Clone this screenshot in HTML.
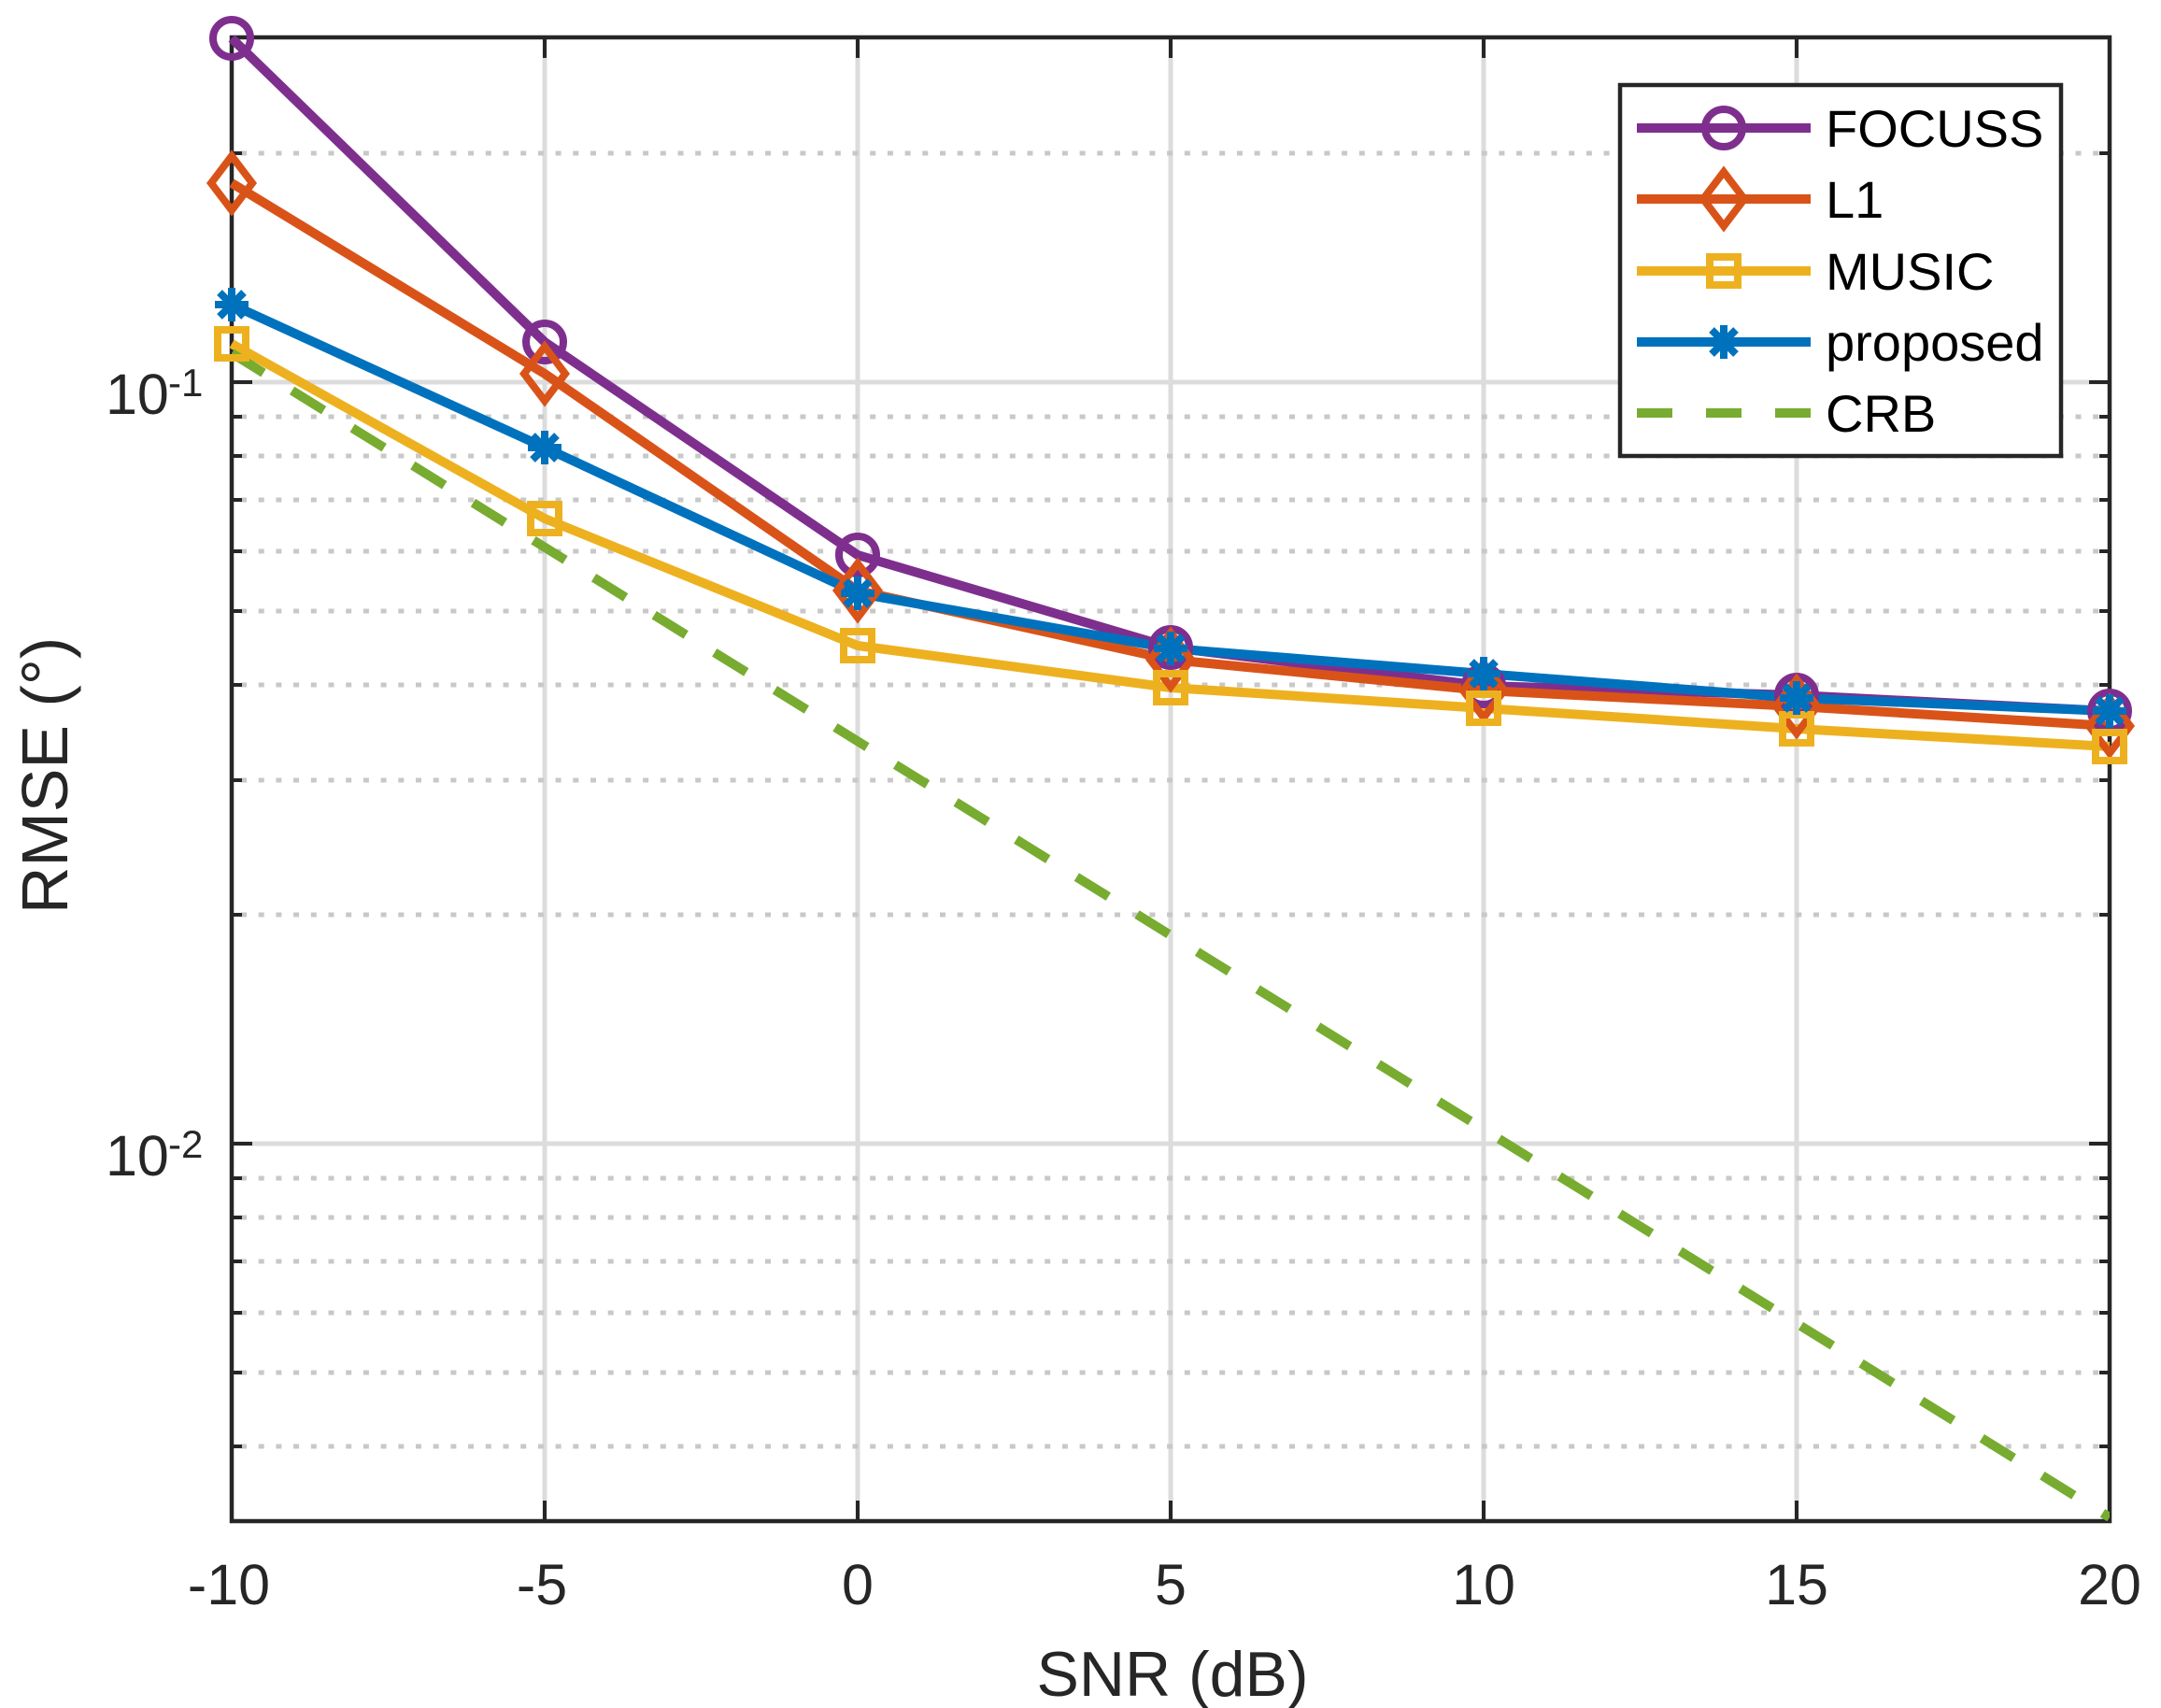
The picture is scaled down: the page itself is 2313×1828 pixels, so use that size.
<!DOCTYPE html>
<html><head><meta charset="utf-8"><style>
html,body{margin:0;padding:0;background:#fff;}
svg{display:block;font-family:"Liberation Sans",sans-serif;}
</style></head><body>
<svg width="2313" height="1828" viewBox="0 0 2313 1828" xmlns="http://www.w3.org/2000/svg">
<defs><clipPath id="c"><rect x="248" y="40" width="2010" height="1588"/></clipPath></defs>
<rect x="248" y="40" width="2010" height="1588" fill="#fff"/>
<g stroke="#dcdcdc" stroke-width="5">
<line x1="583" y1="40" x2="583" y2="1628"/><line x1="918" y1="40" x2="918" y2="1628"/>
<line x1="1253" y1="40" x2="1253" y2="1628"/><line x1="1588" y1="40" x2="1588" y2="1628"/>
<line x1="1923" y1="40" x2="1923" y2="1628"/>
<line x1="248" y1="409" x2="2258" y2="409"/><line x1="248" y1="1224" x2="2258" y2="1224"/>
</g>
<g stroke="#c8c8c8" stroke-width="5" stroke-dasharray="6 12.7">
<line x1="258" y1="164" x2="2258" y2="164"/>
<line x1="258" y1="446" x2="2258" y2="446"/><line x1="258" y1="488" x2="2258" y2="488"/>
<line x1="258" y1="535" x2="2258" y2="535"/><line x1="258" y1="590" x2="2258" y2="590"/>
<line x1="258" y1="654" x2="2258" y2="654"/><line x1="258" y1="733" x2="2258" y2="733"/>
<line x1="258" y1="835" x2="2258" y2="835"/><line x1="258" y1="979" x2="2258" y2="979"/>
<line x1="258" y1="1261" x2="2258" y2="1261"/><line x1="258" y1="1303" x2="2258" y2="1303"/>
<line x1="258" y1="1350" x2="2258" y2="1350"/><line x1="258" y1="1405" x2="2258" y2="1405"/>
<line x1="258" y1="1469" x2="2258" y2="1469"/><line x1="258" y1="1548" x2="2258" y2="1548"/>
</g>
<g stroke="#262626" stroke-width="4">
<path d="M583 40v22M918 40v22M1253 40v22M1588 40v22M1923 40v22M583 1628v-22M918 1628v-22M1253 1628v-22M1588 1628v-22M1923 1628v-22"/>
<path d="M248 409h22M248 1224h22M2258 409h-22M2258 1224h-22"/>
<path d="M248 164h11M248 446h11M248 488h11M248 535h11M248 590h11M248 654h11M248 733h11M248 835h11M248 979h11M248 1261h11M248 1303h11M248 1350h11M248 1405h11M248 1469h11M248 1548h11"/>
<path d="M2258 164h-11M2258 446h-11M2258 488h-11M2258 535h-11M2258 590h-11M2258 654h-11M2258 733h-11M2258 835h-11M2258 979h-11M2258 1261h-11M2258 1303h-11M2258 1350h-11M2258 1405h-11M2258 1469h-11M2258 1548h-11"/>
</g>
<rect x="248" y="40" width="2010" height="1588" fill="none" stroke="#262626" stroke-width="4.5"/>
<g fill="none" stroke-width="10" stroke-linejoin="round">
<polyline stroke="#7E2F8E" points="248,41 583,366 918,594 1253,693 1588,734 1923,744 2258,761"/>
<polyline stroke="#D95319" points="248,196 583,400 918,632 1253,706 1588,739 1923,756 2258,777"/>
<polyline stroke="#EDB120" points="248,368 583,555 918,691 1253,736 1588,758 1923,780 2258,799"/>
<polyline stroke="#0072BD" points="248,326 583,479 918,635 1253,694 1588,721 1923,747 2258,761"/>
<line clip-path="url(#c)" stroke="#77AC30" stroke-dasharray="40 36" x1="248" y1="378" x2="2258" y2="1624"/>
</g>
<g fill="none" stroke="#7E2F8E" stroke-width="8">
<circle cx="248" cy="41" r="20"/><circle cx="583" cy="366" r="20"/><circle cx="918" cy="594" r="20"/><circle cx="1253" cy="693" r="20"/><circle cx="1588" cy="734" r="20"/><circle cx="1923" cy="744" r="20"/><circle cx="2258" cy="761" r="20"/>
</g>
<g fill="none" stroke="#D95319" stroke-width="8">
<path d="M248 167l22 29l-22 29l-22-29zM583 371l22 29l-22 29l-22-29zM918 603l22 29l-22 29l-22-29zM1253 677l22 29l-22 29l-22-29zM1588 710l22 29l-22 29l-22-29zM1923 727l22 29l-22 29l-22-29zM2258 748l22 29l-22 29l-22-29z"/>
</g>
<g fill="none" stroke="#EDB120" stroke-width="8">
<rect x="233" y="353" width="30" height="30"/><rect x="568" y="540" width="30" height="30"/><rect x="903" y="676" width="30" height="30"/><rect x="1238" y="721" width="30" height="30"/><rect x="1573" y="743" width="30" height="30"/><rect x="1908" y="765" width="30" height="30"/><rect x="2243" y="784" width="30" height="30"/>
</g>
<g stroke="#0072BD" stroke-width="8">
<path d="M0 -18v36M-18 0h36M-13 -13l26 26M-13 13l26 -26" transform="translate(248 326)"/>
<path d="M0 -18v36M-18 0h36M-13 -13l26 26M-13 13l26 -26" transform="translate(583 479)"/>
<path d="M0 -18v36M-18 0h36M-13 -13l26 26M-13 13l26 -26" transform="translate(918 635)"/>
<path d="M0 -18v36M-18 0h36M-13 -13l26 26M-13 13l26 -26" transform="translate(1253 694)"/>
<path d="M0 -18v36M-18 0h36M-13 -13l26 26M-13 13l26 -26" transform="translate(1588 721)"/>
<path d="M0 -18v36M-18 0h36M-13 -13l26 26M-13 13l26 -26" transform="translate(1923 747)"/>
<path d="M0 -18v36M-18 0h36M-13 -13l26 26M-13 13l26 -26" transform="translate(2258 761)"/>
</g>
<g fill="#262626" font-size="61" text-anchor="middle">
<text x="245" y="1717">-10</text><text x="580" y="1717">-5</text><text x="918" y="1717">0</text><text x="1253" y="1717">5</text><text x="1588" y="1717">10</text><text x="1923" y="1717">15</text><text x="2258" y="1717">20</text>
</g>
<g fill="#262626">
<text x="113" y="443" font-size="61">10</text><text x="180" y="424" font-size="42">-1</text>
<text x="113" y="1258" font-size="61">10</text><text x="180" y="1239" font-size="42">-2</text>
</g>
<text x="1255" y="1815" font-size="68" fill="#262626" text-anchor="middle">SNR (dB)</text>
<text transform="translate(72 830) rotate(-90)" font-size="70" fill="#262626" text-anchor="middle">RMSE (°)</text>
<rect x="1734" y="91" width="472" height="397" fill="#fff" stroke="#262626" stroke-width="4.5"/>
<g fill="none" stroke-width="10">
<line x1="1752" y1="137" x2="1938" y2="137" stroke="#7E2F8E"/>
<circle cx="1845" cy="137" r="20" stroke="#7E2F8E" stroke-width="8"/>
<line x1="1752" y1="213" x2="1938" y2="213" stroke="#D95319"/>
<path d="M1845 184l22 29l-22 29l-22-29z" stroke="#D95319" stroke-width="8"/>
<line x1="1752" y1="290" x2="1938" y2="290" stroke="#EDB120"/>
<rect x="1830" y="275" width="30" height="30" stroke="#EDB120" stroke-width="8"/>
<line x1="1752" y1="366" x2="1938" y2="366" stroke="#0072BD"/>
<path d="M0 -18v36M-18 0h36M-13 -13l26 26M-13 13l26 -26" transform="translate(1845 366)" stroke="#0072BD" stroke-width="8"/>
<line x1="1752" y1="442" x2="1938" y2="442" stroke="#77AC30" stroke-dasharray="38 36"/>
</g>
<g fill="#000" font-size="56">
<text x="1954" y="157">FOCUSS</text><text x="1954" y="233">L1</text><text x="1954" y="310">MUSIC</text><text x="1954" y="386">proposed</text><text x="1954" y="462">CRB</text>
</g>
</svg>
</body></html>
